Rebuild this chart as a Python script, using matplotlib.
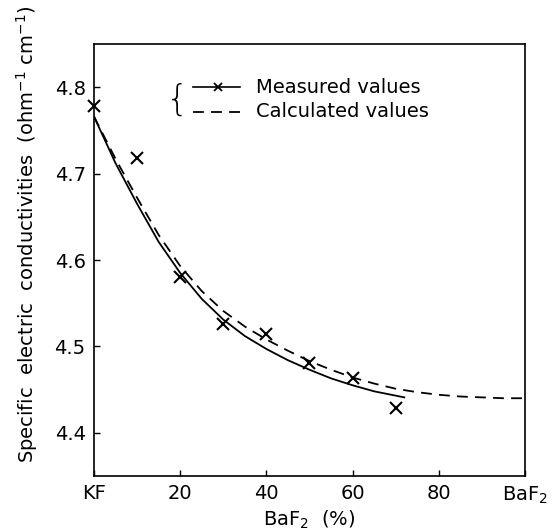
import matplotlib
matplotlib.use("Agg")
import matplotlib.pyplot as plt

plt.rcParams['font.family'] = ['DejaVu Sans']

# Measured values (x markers)
meas_x = [0, 10, 20, 30, 40, 50, 60, 70]
meas_y = [4.778, 4.718, 4.580, 4.526, 4.514, 4.481, 4.464, 4.429]

# Measured curve (solid)
solid_x = [0, 5, 10, 15, 20, 25, 30, 35, 40, 45, 50, 55, 60, 65, 72]
solid_y = [4.766, 4.712, 4.665, 4.621, 4.585, 4.555, 4.531, 4.512, 4.497,
           4.484, 4.473, 4.463, 4.455, 4.448, 4.441]

# Calculated curve (dashed)
calc_x = [0, 5, 10, 15, 20, 25, 30, 35, 40, 45, 50, 55, 60, 65, 70, 75, 80,
          85, 90, 95, 100]
calc_y = [4.766, 4.717, 4.672, 4.629, 4.593, 4.564, 4.541, 4.523, 4.508,
          4.495, 4.483, 4.473, 4.464, 4.457, 4.451, 4.447, 4.444, 4.442,
          4.441, 4.440, 4.440]

xticks = [0, 20, 40, 60, 80, 100]
xticklabels = ['KF', '20', '40', '60', '80', 'BaF$_2$']
yticks = [4.4, 4.5, 4.6, 4.7, 4.8]
yticklabels = ['4.4', '4.5', '4.6', '4.7', '4.8']

fig = plt.figure(figsize=(5.55, 5.32), dpi=100)
ax = fig.add_axes([94/555, 1-476/532, 431/555, 432/532])

ax.plot(solid_x, solid_y, color='black', lw=1.3)
ax.plot(calc_x, calc_y, color='black', lw=1.3, linestyle=(0, (6, 4)))
ax.plot(meas_x, meas_y, linestyle='none', marker='x', color='black',
        markersize=8, mew=1.5, clip_on=False)

ax.set_xlim(0, 100)
ax.set_ylim(4.35, 4.85)
ax.set_xticks(xticks)
ax.set_xticklabels(xticklabels)
ax.set_yticks(yticks)
ax.set_yticklabels(yticklabels)
ax.tick_params(direction='in', length=4, width=1, labelsize=14, pad=6)
for s in ax.spines.values():
    s.set_linewidth(1.2)

ax.set_xlabel('BaF$_2$  (%)', fontsize=14, labelpad=2)
ax.set_ylabel('Specific  electric  conductivities  (ohm$^{-1}$ cm$^{-1}$)',
              fontsize=14)
ax.yaxis.set_label_coords(-0.125, 0.56)

# Manual legend
tr = ax.transAxes
ax.text(0.193, 0.870, '{', transform=tr, fontsize=26, ha='center', va='center',
        fontweight='light')
ax.plot([0.230, 0.339], [0.900, 0.900], color='black', lw=1.2, transform=tr)
ax.plot([0.288], [0.900], marker='x', color='black', markersize=6, mew=1.3,
        transform=tr)
ax.plot([0.230, 0.339], [0.843, 0.843], color='black', lw=1.3,
        linestyle=(0, (6, 4)), transform=tr)
ax.text(0.376, 0.900, 'Measured values', transform=tr, fontsize=14,
        va='center', ha='left')
ax.text(0.376, 0.843, 'Calculated values', transform=tr, fontsize=14,
        va='center', ha='left')

fig.savefig('out.png', dpi=100)
